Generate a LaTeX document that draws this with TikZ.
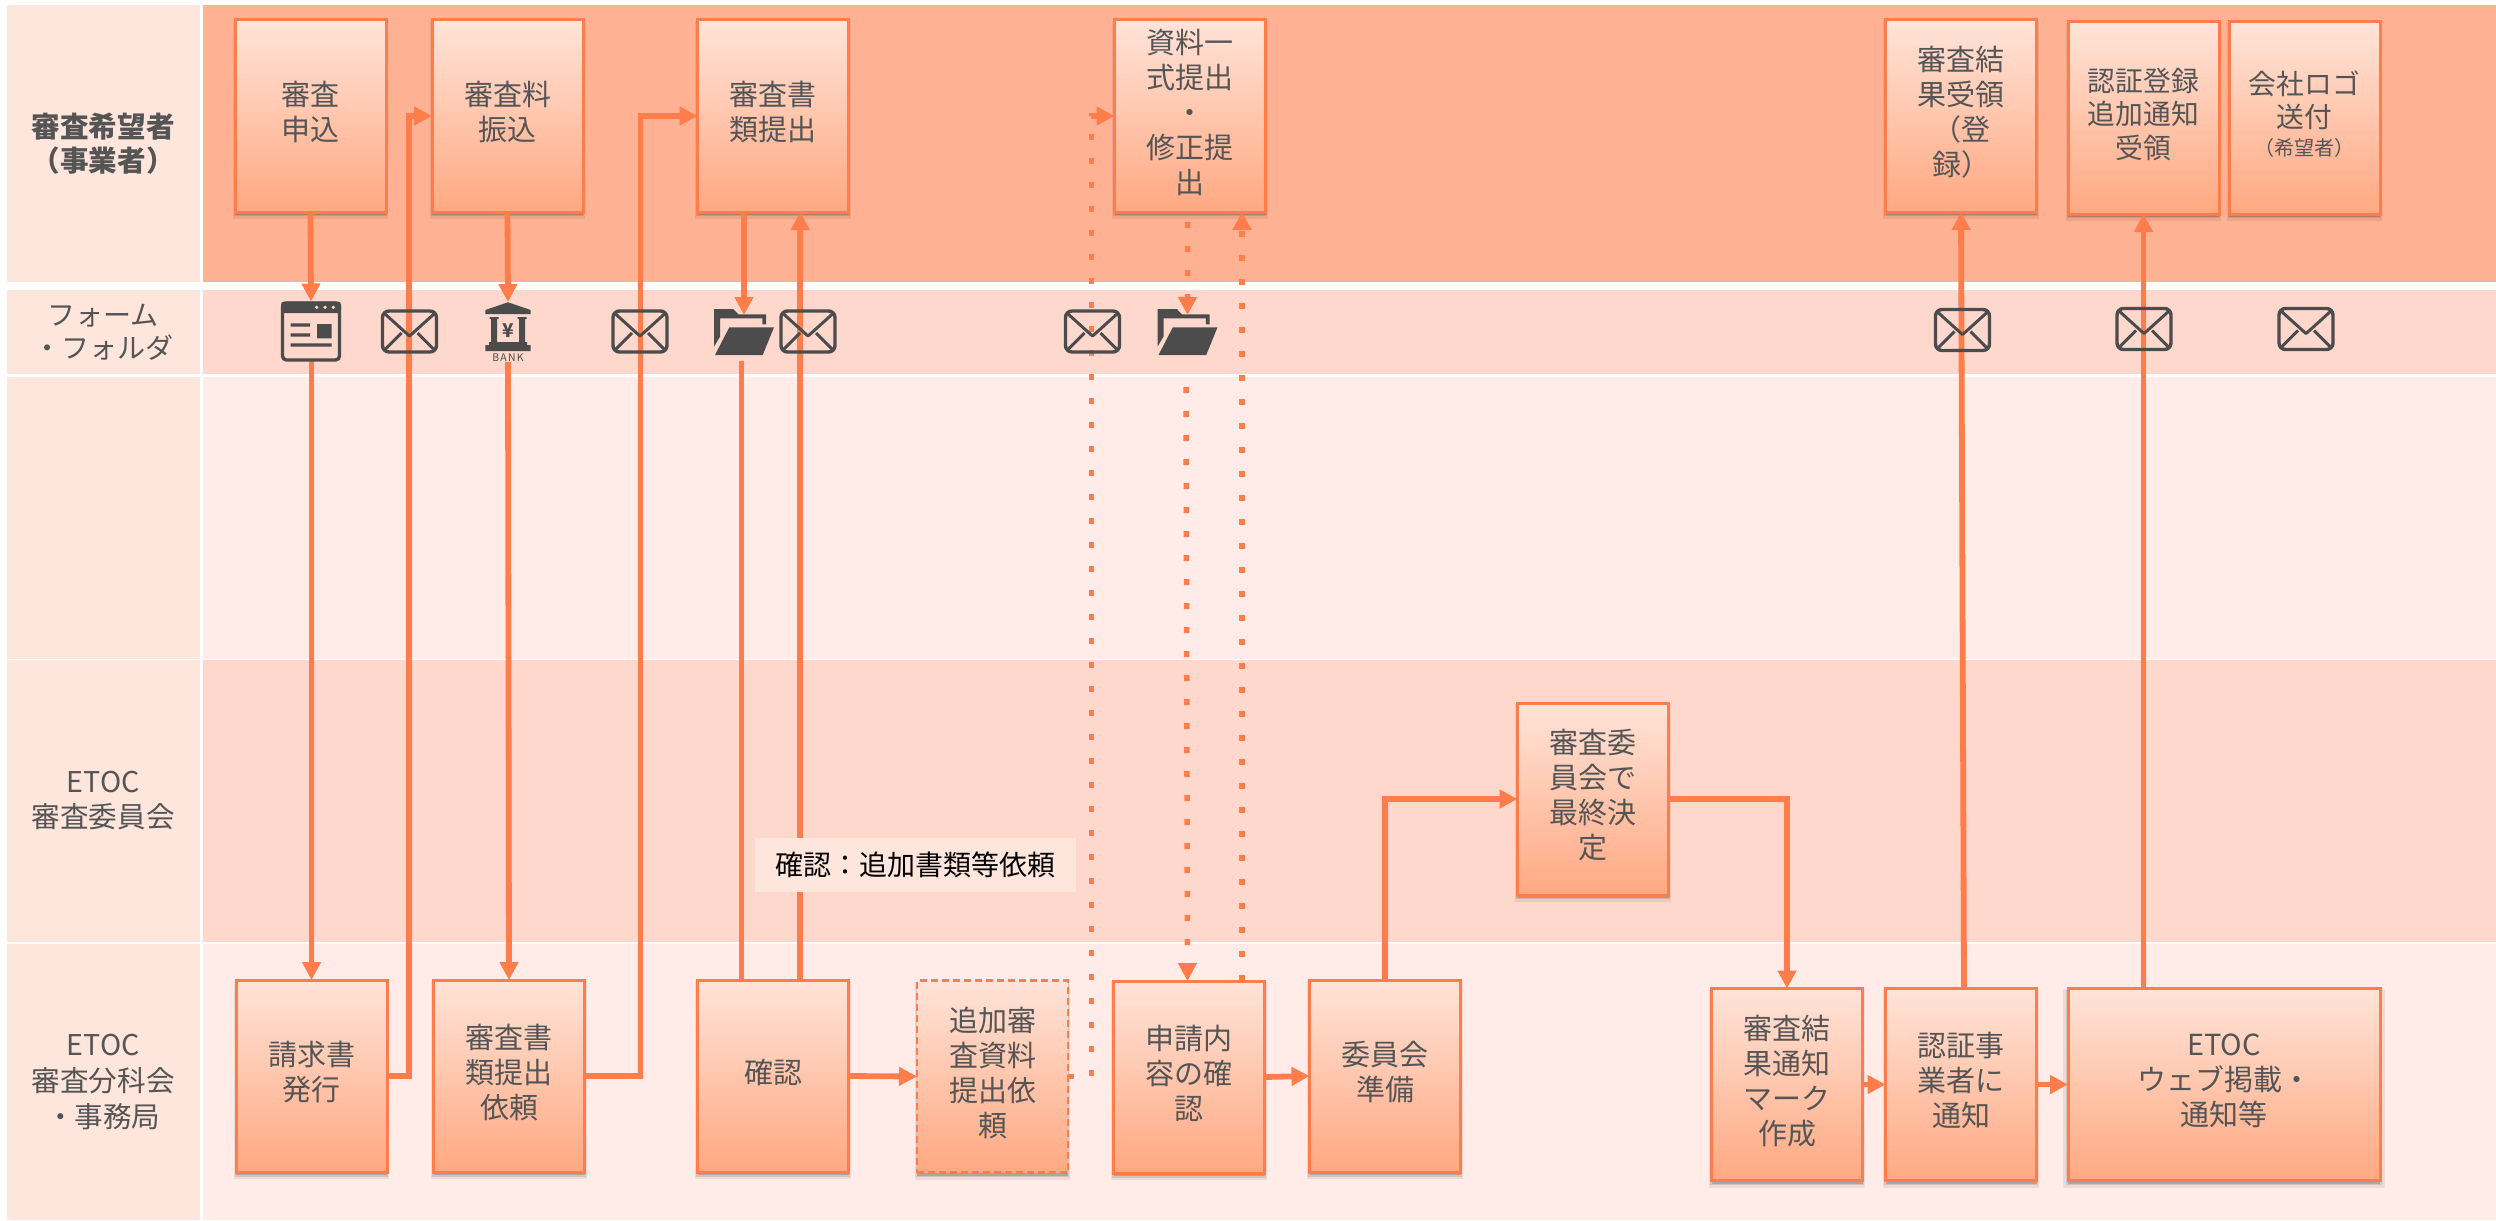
\documentclass[tikz,border=0pt]{standalone}
\usepackage{fontspec}
\setmainfont{Noto Sans CJK JP}
\usetikzlibrary{arrows.meta,shadows,calc}
\definecolor{ln}{HTML}{FF7D4A}
\definecolor{txt}{HTML}{555555}
\definecolor{ic}{HTML}{4C4C4C}
\definecolor{laneA}{HTML}{FFB193}
\definecolor{laneB}{HTML}{FFD8CD}
\definecolor{laneC}{HTML}{FFEBE7}
\definecolor{laneL}{HTML}{FFE6DC}
\definecolor{boxT}{HTML}{FFE3D8}
\definecolor{boxB}{HTML}{FFA67E}
\newcommand{\fs}[2]{\fontsize{#1}{#2}\selectfont}
\tikzset{
  x=1pt,y=-1pt,
  lanehead/.style={fill=laneL,inner sep=0pt,outer sep=0pt,minimum width=193.5pt,align=center,text=txt,font=\fs{28.6}{35}},
  lanebody/.style={inner sep=0pt,outer sep=0pt,minimum width=2293pt},
  flowbox/.style={draw=ln,line width=3pt,minimum width=151pt,minimum height=192pt,inner sep=0pt,outer sep=0pt,align=center,text=txt,font=\fs{29}{35},
    execute at end node={\rule[-10pt]{0pt}{0pt}},
    drop shadow={shadow xshift=0pt,shadow yshift=-4pt,shadow scale=1.03,opacity=.07,fill=black},
    drop shadow={shadow xshift=0pt,shadow yshift=-3pt,shadow scale=1.015,opacity=.1,fill=black},
    drop shadow={shadow xshift=0pt,shadow yshift=-3pt,opacity=.16,fill=black},
    fill=boxB,
    path picture={
      \foreach \i in {0,...,39}{
        \pgfmathsetmacro\gradpct{100-\i*2.5}
        \fill[color=boxT!\gradpct!boxB] ($(path picture bounding box.north west)!\i/39!(path picture bounding box.south west)$) rectangle (path picture bounding box.south east);
      }
    }},
  smalltext/.style={font=\fs{27.8}{33.5}},
  iconslot/.style={inner sep=0pt,outer sep=0pt,minimum width=60pt,minimum height=60pt},
  flow/.style={draw=ln,line width=5.8pt,-{Triangle[width=18pt,length=18pt]}},
  flowplain/.style={draw=ln,line width=5.8pt},
  dots/.style={draw=ln,line width=5.5pt,dash pattern=on 6pt off 18pt},
  dotflow/.style={dots,-{Triangle[width=18pt,length=18pt]}},
  mailicon/.pic={
    \draw[ic,line width=3.4pt,rounded corners=6.5pt] (-27,-20.5) rectangle (27,20.5);
    \draw[ic,line width=3pt,line join=round] (-25,-18) -- (-4,1) -- (0,4.5) -- (4,1) -- (25,-18);
    \draw[ic,line width=3pt] (-25,18.5) -- (-8,1.5) (25,18.5) -- (8,1.5);
  },
  formicon/.pic={
    \draw[ic,line width=3.4pt,rounded corners=4pt] (-28.5,-28.5) rectangle (28.5,28.5);
    \fill[ic,rounded corners=3pt] (-30,-30) rectangle (30,-18.5);
    \fill[laneB] (5.7,-24.2) circle (1.8) (14,-24.2) circle (1.8) (22.3,-24.2) circle (1.8);
    \fill[ic] (-20.3,-8.2) rectangle (-1,-4.8) (-20.3,1.8) rectangle (-1,5.2) (-20.3,11.8) rectangle (20.7,15.2) (6,-7.5) rectangle (20.7,6.8);
  },
  bankicon/.pic={
    \fill[ic] (-22.7,-22) -- (0,-29.7) -- (22.7,-22) -- (22.7,-18) -- (-22.7,-18) -- cycle;
    \fill[ic] (-17,-14) rectangle (-11,10) (11,-14) rectangle (17,10);
    \fill[ic] (-18.5,-15) rectangle (-9.5,-13) (9.5,-15) rectangle (18.5,-13);
    \fill[ic] (-19,10) rectangle (19,13) (-22.7,13) rectangle (22.7,19);
    \node[text=ic,inner sep=0pt,font=\fs{19}{19}\bfseries] (yen) at (0,-1.5) {¥};
    \node[text=ic,inner sep=0pt,font=\fs{10.5}{11}\addfontfeatures{LetterSpace=12}] (banklabel) at (0,26) {BANK};
  },
  foldericon/.pic={
    \fill[ic] (-30,-23.5) -- (-10.7,-23.5) -- (-5.7,-18.2) -- (22,-18.2) -- (22,-8.2) -- (18.3,-8.2) -- (18.3,-14.2) -- (-24,-14.2) -- (-24,4.2) -- (-30,14.2) -- cycle;
    \fill[ic] (-14.7,-5.2) -- (30,-5.2) -- (18.7,22.5) -- (-29,22.5) -- cycle;
  }
}
\begin{document}
\begin{tikzpicture}
\useasboundingbox (0,0) rectangle (2496,1220);
% lanes
\fill[white] (0,0) rectangle (2496,1220);
\node[lanehead,minimum height=277.3pt,font=\fs{28.6}{34}\bfseries] (h1) at (103.25,143.35) {審査希望者\\（事業者）};
\node[lanehead,minimum height=84pt,font=\fs{28}{33}] (h2) at (103.25,332) {フォーム\\・フォルダ};
\node[lanehead,minimum height=282pt] (h3) at (103.25,518) {};
\node[lanehead,minimum height=281.5pt] (h4) at (103.25,800.75) {ETOC\\審査委員会};
\node[lanehead,minimum height=276.5pt,font=\fs{28.6}{36},execute at begin node={\rule{0pt}{36pt}}] (h5) at (103.25,1081.75) {ETOC\\審査分科会\\・事務局};
\node[lanebody,fill=laneA,minimum height=277.3pt] (r1) at (1349.5,143.35) {};
\node[lanebody,fill=laneB,minimum height=84pt] (r2) at (1349.5,332) {};
\node[lanebody,fill=laneC,minimum height=282pt] (r3) at (1349.5,518) {};
\node[lanebody,fill=laneB,minimum height=281.5pt] (r4) at (1349.5,800.75) {};
\node[lanebody,fill=laneC,minimum height=276.5pt] (r5) at (1349.5,1081.75) {};
% boxes
\node[flowbox] (a1) at (310.5,116) {審査\\申込};
\node[flowbox] (a2) at (507.5,116) {審査料\\振込};
\node[flowbox] (a3) at (773,116) {審査書\\類提出};
\node[flowbox] (a4) at (1190,116) {資料一\\式提出\\・\\修正提\\出};
\node[flowbox] (a5) at (1961,116) {審査結\\果受領\\（登\\録）};
\node[flowbox,smalltext] (a6) at (2143.5,118) {認証登録\\追加通知\\受領};
\node[flowbox,smalltext] (a7) at (2304.5,118) {会社ロゴ\\送付\\[-6pt]{\fs{20}{26}（希望者）}};
\node[flowbox] (b1) at (311.5,1076) {請求書\\発行};
\node[flowbox] (b2) at (509,1076) {審査書\\類提出\\依頼};
\node[flowbox] (b3) at (773,1076) {確認};
\node[flowbox,line width=2.2pt,dash pattern=on 7pt off 4pt] (b4) at (992.5,1076.5) {追加審\\査資料\\提出依\\頼};
\node[flowbox] (b5) at (1189,1077) {申請内\\容の確\\認};
\node[flowbox] (b6) at (1385,1076) {委員会\\準備};
\node[flowbox] (c1) at (1593,799) {審査委\\員会で\\最終決\\定};
\node[flowbox] (d1) at (1787,1084.5) {審査結\\果通知\\マーク\\作成};
\node[flowbox] (d2) at (1961,1084.5) {認証事\\業者に\\通知};
\node[flowbox,minimum width=312pt] (d3) at (2224,1084.5) {ETOC\\ウェブ掲載・\\通知等};
% icon slots
\node[iconslot] (form) at (311,331.5) {};
\node[iconslot,minimum width=46pt] (bank) at (508,332) {};
\node[iconslot,minimum height=46pt] (fold1) at (744,338) {};
\node[iconslot,minimum height=46pt] (fold2) at (1187.5,338) {};
\node[iconslot,minimum height=44pt] (m1) at (409.5,331.5) {};
\node[iconslot,minimum height=44pt] (m2) at (640,331.5) {};
\node[iconslot,minimum height=44pt] (m3) at (808,331.5) {};
\node[iconslot,minimum height=44pt] (m4) at (1092.5,331.5) {};
\node[iconslot,minimum height=44pt] (m5) at (1962.5,330) {};
\node[iconslot,minimum height=44pt] (m6) at (2144,329) {};
\node[iconslot,minimum height=44pt] (m7) at (2306,329) {};
\pic at ([yshift=5.5pt]fold1.center) {foldericon};
\pic at ([yshift=5.5pt]fold2.center) {foldericon};
% routing coordinates
\coordinate (v1) at (409,0);
\coordinate (v2) at (640.5,0);
\coordinate (v3) at (1091.5,0);
\coordinate (v4) at (800.3,0);
\coordinate (v5) at (1242,0);
\coordinate (v6) at (741.5,0);
% connectors
\draw[flow] (a1.south) -- (form.north);
\draw[flow] (form.south) -- (form.south -| b1.north) -- (b1.north);
\draw[flow] (a2.south) -- (bank.north);
\draw[flow] (bank.south) -- (b2.north);
\draw[flow] (a3.south -| fold1.north) -- (fold1.north);
\draw[flowplain] (fold1.south -| v6) -- (b3.north -| v6);
\draw[flow] (b3.north -| v4) -- (a3.south -| v4);
\draw[flow] (b1.east) -- (v1 |- b1.east) -- (v1 |- a2.west) -- (a2.west);
\draw[flow] (b2.east) -- (v2 |- b2.east) -- (v2 |- a3.west) -- (a3.west);
\draw[flow] (b3.east) -- (b4.west);
\draw[flow] (b5.east) -- (b6.west);
\draw[flow] (b6.north) |- (c1.west);
\draw[flow] (c1.east) -| (d1.north);
\draw[flow] (d1.east) -- (d2.west);
\draw[flow] (d2.east) -- (d3.west);
\draw[flow] ([xshift=3pt]d2.north) -- (a5.south);
\draw[flow] (d3.north -| a6.south) -- (a6.south);
\draw[dotflow] (b4.east) -- (v3 |- b4.east) -- (v3 |- a4.west) -- (a4.west);
\draw[dotflow,dash phase=14pt] ([xshift=-2.3pt]a4.south) -- (fold2.north);
\draw[dotflow] ([xshift=-1.5pt,yshift=-26pt]fold2.south) -- (fold2.south |- b5.north);
\draw[dotflow] (b5.north -| v5) -- (a4.south -| v5);
% icons on top
\pic at (form) {formicon};
\pic at (bank) {bankicon};
\foreach \m in {m1,m2,m3,m4,m5,m6,m7} {\pic at (\m) {mailicon};}
% label
\node[fill=laneL,inner sep=0pt,minimum width=321pt,minimum height=54pt,text=black,font=\fs{28}{34}] (lab) at (915.5,865) {確認：追加書類等依頼};
\end{tikzpicture}
\end{document}
